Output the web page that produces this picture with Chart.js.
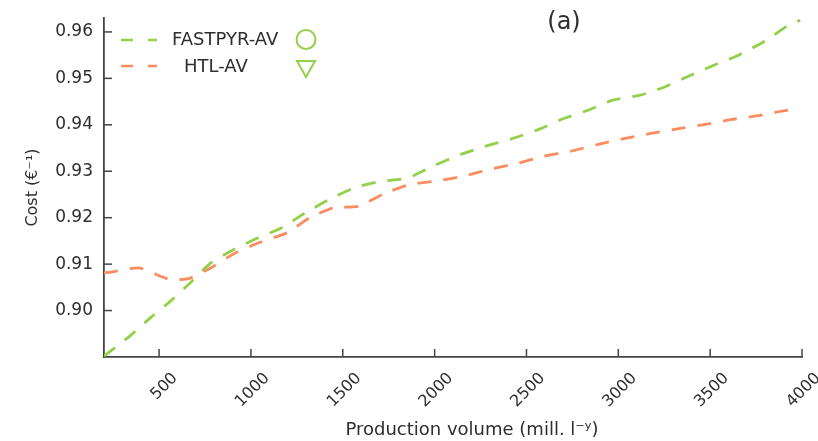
<!DOCTYPE html>
<html>
<head>
<meta charset="utf-8">
<script src="https://cdn.jsdelivr.net/npm/chart.js@4.4.1/dist/chart.umd.min.js"></script>
<style>
  html, body { margin: 0; padding: 0; background: #fff; }
  #wrap { width: 818px; height: 441px; }
</style>
</head>
<body>
<div id="wrap"><canvas id="chart" width="818" height="441"></canvas></div>
<script>
// ============ Data ============
const xTicks = [500, 1000, 1500, 2000, 2500, 3000, 3500, 4000];
const yTicks = [0.90, 0.91, 0.92, 0.93, 0.94, 0.95, 0.96];

const fastpyrX = [200, 340, 460, 570, 670, 780, 900, 1030, 1170, 1290, 1430, 1560, 1700,
  1850, 1990, 2140, 2270, 2420, 2560, 2700, 2840, 2970, 3120, 3250, 3390, 3530, 3660, 3810, 3920, 3990];
const fastpyrY = [0.8902, 0.8945, 0.8987, 0.9023, 0.9060, 0.9102, 0.9130, 0.9155, 0.9179, 0.9209, 0.9240, 0.9264, 0.9278,
  0.9285, 0.9311, 0.9336, 0.9353, 0.9370, 0.9389, 0.9413, 0.9432, 0.9453, 0.9464, 0.9481, 0.9506, 0.9530, 0.9551, 0.9583, 0.9613, 0.9625];

const htlX = [200, 240, 390, 520, 570, 670, 790, 910, 1050, 1200, 1320, 1450, 1590, 1720,
  1870, 2010, 2150, 2300, 2450, 2590, 2740, 2880, 3030, 3170, 3320, 3460, 3610, 3750, 3900, 3990];
const htlY = [0.9081, 0.9083, 0.9092, 0.9072, 0.9066, 0.9070, 0.9094, 0.9123, 0.9147, 0.9168, 0.9200, 0.9221, 0.9225, 0.9251,
  0.9272, 0.9279, 0.9289, 0.9304, 0.9317, 0.9332, 0.9343, 0.9357, 0.9370, 0.9381, 0.9391, 0.9400, 0.9411, 0.9419, 0.9430, 0.9435];

const GREEN = '#93d04a';
const ORANGE = '#fb8c60';
const AXIS = '#444444';
const TEXT = '#2e2e2e';
const FONT = '"DejaVu Sans", sans-serif';

function toPoints(xs, ys) {
  return xs.map((x, i) => ({ x, y: ys[i] }));
}

// inward tick marks + legend + panel label + x title
const extrasPlugin = {
  id: 'extras',
  afterDraw(chart) {
    const ctx = chart.ctx;
    const xs = chart.scales.x, ys = chart.scales.y;
    const area = chart.chartArea;
    ctx.save();
    ctx.strokeStyle = AXIS;
    ctx.lineWidth = 1.5;
    xTicks.forEach(v => {
      const px = xs.getPixelForValue(v);
      ctx.beginPath(); ctx.moveTo(px, area.bottom); ctx.lineTo(px, area.bottom - 8); ctx.stroke();
    });
    yTicks.forEach(v => {
      const py = ys.getPixelForValue(v);
      ctx.beginPath(); ctx.moveTo(area.left, py); ctx.lineTo(area.left + 8, py); ctx.stroke();
    });

    // legend
    ctx.lineWidth = 2.6;
    ctx.setLineDash([12, 15]);
    ctx.strokeStyle = GREEN;
    ctx.beginPath(); ctx.moveTo(121, 40); ctx.lineTo(157, 40); ctx.stroke();
    ctx.strokeStyle = ORANGE;
    ctx.beginPath(); ctx.moveTo(121, 66); ctx.lineTo(157, 66); ctx.stroke();
    ctx.setLineDash([]);

    ctx.fillStyle = TEXT;
    ctx.font = '18px ' + FONT;
    ctx.textBaseline = 'middle';
    ctx.textAlign = 'left';
    ctx.fillText('FASTPYR-AV', 172, 40);
    ctx.fillText('HTL-AV', 184, 67);

    ctx.strokeStyle = GREEN;
    ctx.lineWidth = 2;
    ctx.beginPath(); ctx.arc(306, 39.5, 9.5, 0, Math.PI * 2); ctx.stroke();
    ctx.beginPath();
    ctx.moveTo(297, 61); ctx.lineTo(315, 61); ctx.lineTo(306, 77); ctx.closePath(); ctx.stroke();

    ctx.font = '24px ' + FONT;
    ctx.textAlign = 'center';
    ctx.fillText('(a)', 564, 23);

    // x axis title
    ctx.font = '18px ' + FONT;
    ctx.fillText('Production volume (mill. l\u207B\u02B8)', 472, 430);
    ctx.restore();
  }
};

const lineStyle = {
  showLine: true,
  borderWidth: 2.8,
  borderDash: [14, 12],
  pointRadius: 0,
  tension: 0.2,
  fill: false,
};

new Chart(document.getElementById('chart').getContext('2d'), {
  type: 'scatter',
  data: {
    datasets: [
      { label: 'FASTPYR-AV', data: toPoints(fastpyrX, fastpyrY), borderColor: GREEN, ...lineStyle },
      { label: 'HTL-AV', data: toPoints(htlX, htlY), borderColor: ORANGE, ...lineStyle },
    ],
  },
  options: {
    responsive: false,
    animation: false,
    layout: { padding: { top: 18, right: 16, left: 0, bottom: 0 } },
    plugins: { legend: { display: false }, tooltip: { enabled: false } },
    scales: {
      x: {
        type: 'linear',
        min: 200,
        max: 4000,
        afterBuildTicks: s => { s.ticks = xTicks.map(v => ({ value: v })); },
        afterFit: s => { s.height = 84; s.paddingLeft = 0; s.paddingRight = 0; },
        grid: { drawOnChartArea: false, drawTicks: false },
        border: { display: true, color: AXIS, width: 1.8 },
        ticks: {
          minRotation: 45, maxRotation: 45, padding: 12, labelOffset: 16,
          color: TEXT, font: { family: FONT, size: 16 },
          callback: v => String(v),
        },
        title: { display: false },
      },
      y: {
        type: 'linear',
        min: 0.89,
        max: 0.963,
        afterBuildTicks: s => { s.ticks = yTicks.map(v => ({ value: v })); },
        afterFit: s => { s.width = 104; s.paddingTop = 0; s.paddingBottom = 0; },
        grid: { drawOnChartArea: false, drawTicks: false },
        border: { display: true, color: AXIS, width: 1.8 },
        ticks: {
          padding: 11, color: TEXT, font: { family: FONT, size: 17 },
          callback: v => v.toFixed(2),
        },
        title: {
          display: true, text: 'Cost (\u20AC\u207B\u00B9)',
          color: TEXT, font: { family: FONT, size: 16 },
          padding: { top: 23, bottom: 23 },
        },
      },
    },
  },
  plugins: [extrasPlugin],
});
</script>
</body>
</html>
